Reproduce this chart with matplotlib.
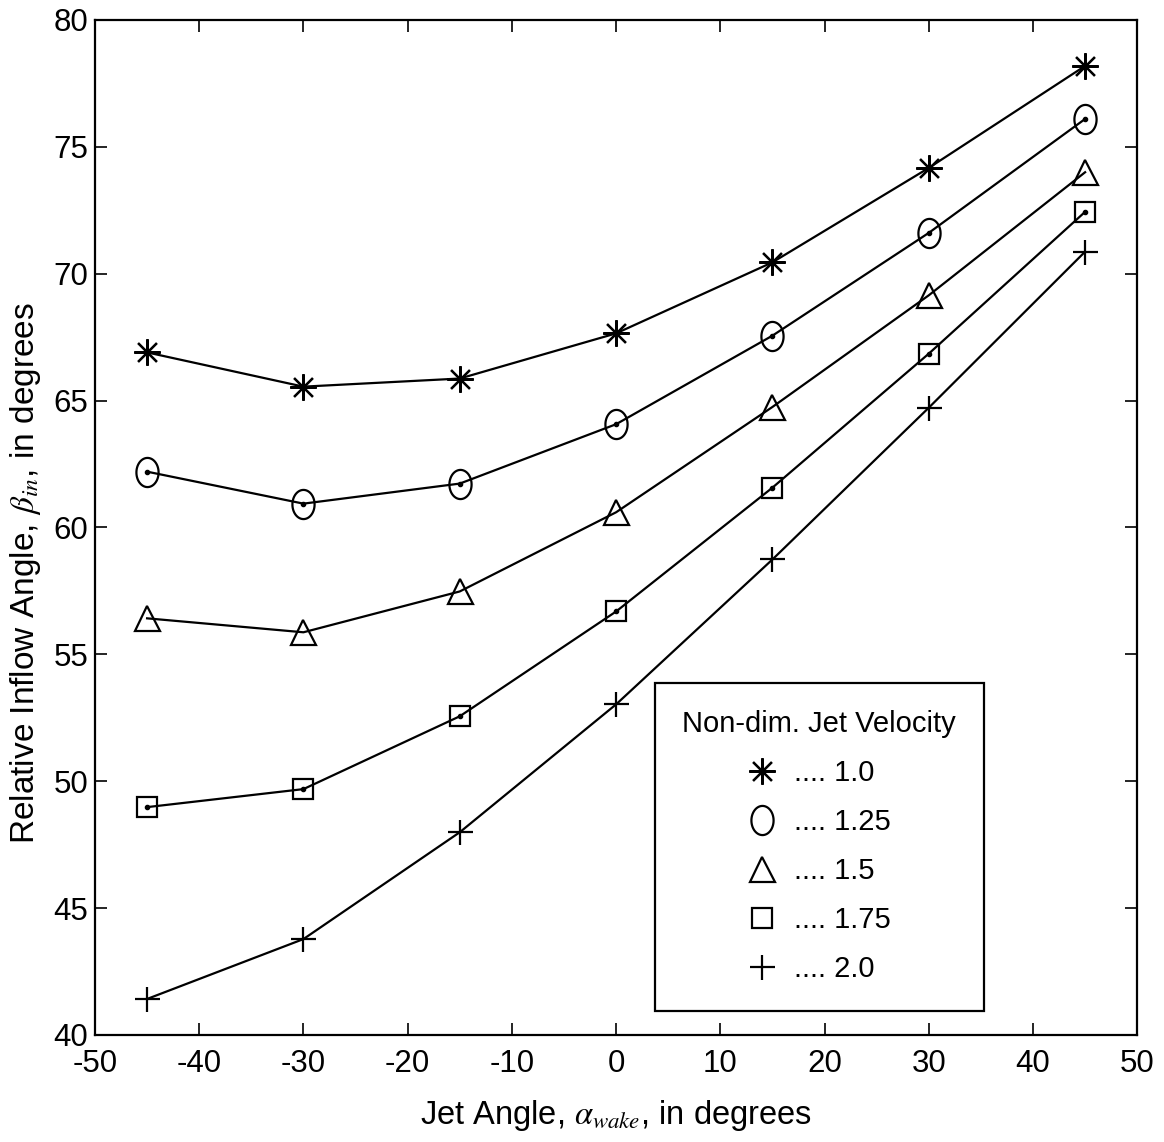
########################################################################################################################
# Relative inflow angle vs jet angle
########################################################################################################################
import numpy as np
import matplotlib
matplotlib.use('Agg')
from matplotlib import pyplot as plt
from matplotlib.path import Path
########################################################################################################################
# Dados
jet_angle = [-45, -30, -15, 0, 15, 30, 45]
vel_labels = ['1.0', '1.25', '1.5', '1.75', '2.0']
beta_10 = [66.9, 65.55, 65.87, 67.65, 70.45, 74.17, 78.19]
beta_125 = [62.2, 60.94, 61.73, 64.07, 67.56, 71.61, 76.1]
beta_15 = [56.42, 55.87, 57.48, 60.6, 64.75, 69.15, 74.0]
beta_175 = [48.98, 49.69, 52.56, 56.69, 61.57, 66.85, 72.44]
beta_20 = [41.42, 43.78, 47.99, 53.03, 58.74, 64.72, 70.87]
series = [beta_10, beta_125, beta_15, beta_175, beta_20]
########################################################################################################################
# Estilo
plt.rcParams['font.family'] = ['Liberation Sans', 'DejaVu Sans']
plt.rcParams['mathtext.fontset'] = 'stix'
plt.rcParams['axes.unicode_minus'] = False

# circulo alongado (estilo do original)
t = np.linspace(0, 2 * np.pi, 60)
ellipse = Path(np.column_stack([0.76 * np.cos(t), np.sin(t)]), closed=True)

markers = [(8, 2, 0), ellipse, '^', 's', '+']
msizes = [19, 21, 18, 14, 18]
dotted = [False, True, False, True, False]

fig = plt.figure(figsize=(11.64, 11.42), dpi=100)
ax = fig.add_axes([0.0816, 0.0937, 0.8954, 0.8888])

handles = []
for vals, mk, ms, dot, lab in zip(series, markers, msizes, dotted, vel_labels):
    ax.plot(jet_angle, vals, color='black', lw=1.6)
    h, = ax.plot(jet_angle, vals, ls='none', marker=mk, ms=ms, mfc='none', mec='black', mew=1.6,
                 label='.... ' + lab)
    if dot:
        ax.plot(jet_angle, vals, ls='none', marker='o', ms=3, color='black')
    handles.append(h)

ax.set_xlim(-50, 50)
ax.set_ylim(40, 80)
ax.set_xticks(np.arange(-50, 51, 10))
ax.set_yticks(np.arange(40, 81, 5))
ax.tick_params(direction='in', length=8.5, width=1.2, labelsize=22.5, top=True, right=True)
ax.tick_params(axis='x', pad=10)
ax.tick_params(axis='y', pad=5)
for sp in ax.spines.values():
    sp.set_linewidth(1.6)

ax.set_xlabel(r'Jet Angle, $\alpha_{wake}$, in degrees', fontsize=23.5, labelpad=14)
ax.set_ylabel(r'Relative Inflow Angle, $\beta_{in}$, in degrees', fontsize=24)
ax.yaxis.set_label_coords(-0.05, 0.455)

leg = ax.legend(handles=handles, title='Non-dim. Jet Velocity', loc='upper left',
                bbox_to_anchor=(0.537, 0.347), fontsize=21, title_fontsize=21,
                frameon=True, fancybox=False, edgecolor='black', framealpha=1,
                handlelength=1.0, handletextpad=0.6, labelspacing=0.72, borderpad=0.95,
                borderaxespad=0)
leg.get_frame().set_linewidth(1.6)
########################################################################################################################
fig.savefig('out.png', dpi=100)
########################################################################################################################
